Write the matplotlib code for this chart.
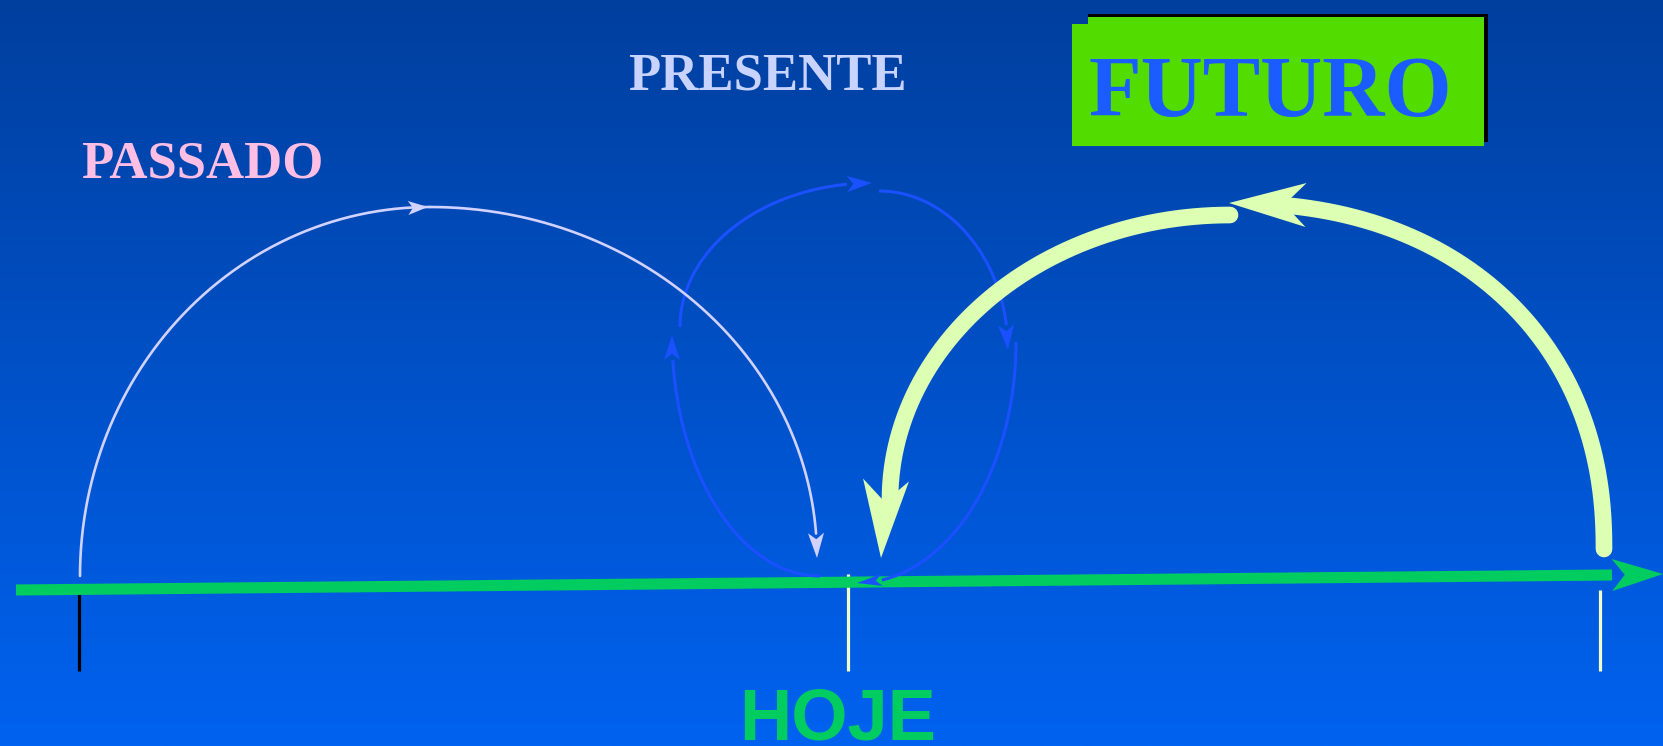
import numpy as np
import matplotlib.pyplot as plt
from matplotlib.patches import Polygon, Rectangle

W, H = 1663, 746

# colours
bg_top = np.array([0, 63, 158]) / 255.
bg_bot = np.array([0, 98, 240]) / 255.
green = '#00cc60'
lav = '#d2d2ff'
blue = '#1a50ff'
pale = '#dcffb4'
tick_pale = '#f0ffc8'

# texts: label, centre x, baseline y, colour, size, family
labels = ['PASSADO', 'PRESENTE', 'FUTURO', 'HOJE']
label_x = [202, 767, 1270, 838]
label_y = [177, 89, 116, 739]
label_col = ['#ffbee4', '#c8d4ff', '#1a5cff', green]
label_size = [38, 38, 62, 52]
label_font = ['Liberation Serif', 'Liberation Serif', 'Liberation Serif', 'Liberation Sans']

# time line and ticks
line_start = (16, 590)
line_end = (1612, 575)
line_tip = (1663, 574)
tick_x = [79, 848, 1600]
tick_top = [590, 574, 590]
tick_bot = [671, 671, 671]
tick_col = ['black', tick_pale, tick_pale]

# arcs: cx, cy, a, b, t0, t1 (degrees), exponent
lav_arcs = [(430, 576, 350, 369, 180, 90, 2), (430, 558, 387, 351, 90, 4, 2)]
lav_heads = [((428, 207), (408, 208), 7), ((817, 558), (816, 533), 8)]

blue_arcs = [(820, 335, 148, 241, -90, -174, 2),
             (872, 327, 192, 144, 180, 97.5, 2),
             (879, 350, 129, 159, 90, 9, 2),
             (857, 342, 159, 241, 0, -81, 2)]
blue_heads = [((672, 335), (672, 360), 8), ((872, 183), (847, 184), 8),
              ((1008, 350), (1006, 325), 8), ((857, 583), (882, 580), 6)]

pale_arcs = [(1230, 549, 374, 346, 0, 82, 2.2), (1230, 500, 340, 285, 90, 181, 2)]
pale_heads = [((1229, 203), (1306, 205), 22), ((881, 558), (886, 480), 23)]


def ell(cx, cy, a, b, t0, t1, n=2):
    t = np.radians(np.linspace(t0, t1, 300))
    c, s = np.cos(t), np.sin(t)
    c = np.sign(c) * np.abs(c)**(2./n)
    s = np.sign(s) * np.abs(s)**(2./n)
    return cx + a*c, cy - b*s


def head(ax, tip, back, hw, color, z, notch=0.25):
    tip = np.array(tip, float)
    back = np.array(back, float)
    d = tip - back
    L = np.hypot(*d)
    u = d / L
    n = np.array([-u[1], u[0]])
    pts = [tip, back + n*hw, back + u*L*notch, back - n*hw]
    ax.add_patch(Polygon(pts, closed=True, fc=color, ec='none', zorder=z))


def main():
    fig = plt.figure(figsize=(W/100., H/100.), dpi=100)
    ax = fig.add_axes([0, 0, 1, 1])
    ax.set_xlim(0, W)
    ax.set_ylim(H, 0)
    ax.axis('off')

    # background gradient
    f = np.linspace(0, 1, 256)[:, None, None]
    grad = bg_top[None, None, :]*(1-f) + bg_bot[None, None, :]*f
    ax.imshow(grad, extent=(0, W, H, 0), aspect='auto', zorder=0)

    # futuro box with shadow
    ax.add_patch(Rectangle((1088, 14), 400, 128, fc='black', ec='none', zorder=1))
    ax.add_patch(Rectangle((1072, 24), 412, 122, fc='#52dc00', ec='none', zorder=2))
    ax.add_patch(Rectangle((1088, 17), 396, 129, fc='#52dc00', ec='none', zorder=2))

    for lab, x, y, c, s, fam in zip(labels, label_x, label_y, label_col,
                                    label_size, label_font):
        ax.text(x, y, lab, color=c, fontsize=s, family=fam, weight='bold',
                ha='center', va='baseline', zorder=3)

    # ticks
    for x, y0, y1, c in zip(tick_x, tick_top, tick_bot, tick_col):
        ax.plot([x, x], [y0, y1], color=c, lw=2.3, solid_capstyle='butt', zorder=2)

    # time line
    ax.plot([line_start[0], line_end[0]], [line_start[1], line_end[1]],
            color=green, lw=8, solid_capstyle='butt', zorder=3)
    head(ax, line_tip, line_end, 16, green, 3)

    # presente loop
    for arc in blue_arcs:
        x, y = ell(*arc)
        ax.plot(x, y, color=blue, lw=2.2, solid_capstyle='butt', zorder=4)
    for tip, back, hw in blue_heads:
        head(ax, tip, back, hw, blue, 4)

    # passado arc
    for arc in lav_arcs:
        x, y = ell(*arc)
        ax.plot(x, y, color=lav, lw=1.9, solid_capstyle='round', zorder=5)
    for tip, back, hw in lav_heads:
        head(ax, tip, back, hw, lav, 5)

    # futuro arcs
    for arc in pale_arcs:
        x, y = ell(*arc)
        ax.plot(x, y, color=pale, lw=12, solid_capstyle='round', zorder=6)
    for tip, back, hw in pale_heads:
        head(ax, tip, back, hw, pale, 6, notch=0.28)

    plt.savefig('out.png', dpi=100)


if __name__ == '__main__':
    main()
